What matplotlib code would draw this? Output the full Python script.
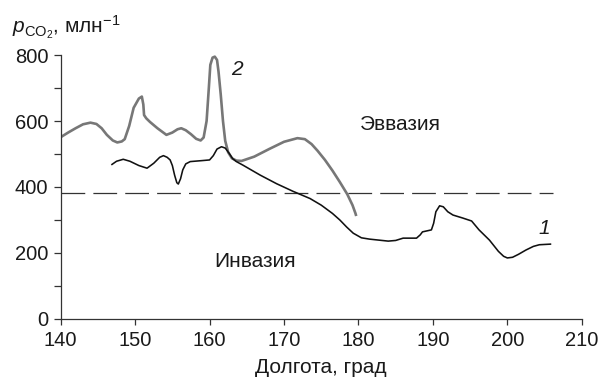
import matplotlib
matplotlib.use("Agg")
import matplotlib.pyplot as plt
from matplotlib.ticker import MultipleLocator

plt.rcParams['font.family'] = ['Liberation Sans', 'DejaVu Sans']
plt.rcParams['mathtext.fontset'] = 'custom'
plt.rcParams['mathtext.rm'] = 'Liberation Sans'
plt.rcParams['mathtext.it'] = 'Liberation Sans:italic'

# Curve 2 (gray)
lon2 = [140, 141, 142, 143, 144, 144.8, 145.5, 146.2, 147, 147.6, 148.2, 148.6, 149.2,
        149.8, 150.5, 150.9, 151.1, 151.2, 151.5, 152.0, 153.0, 154.2, 155.0, 155.7,
        156.2, 156.8, 157.5, 158.2, 158.8, 159.2, 159.6, 159.9, 160.1, 160.4, 160.7,
        161.0, 161.2, 161.5, 161.8, 162.1, 162.5, 163.0, 163.6, 164.3, 166, 168, 170,
        171.8, 172.8, 173.7, 174.5, 175.5, 176.5, 177.5, 178.5, 179.2, 179.6, 179.7]
val2 = [551, 565, 578, 590, 595, 591, 578, 558, 541, 535, 538, 545, 585,
        640, 668, 674, 650, 618, 608, 597, 578, 558, 565, 575,
        578, 572, 560, 546, 541, 550, 600, 700, 770, 792, 795,
        785, 750, 680, 600, 540, 505, 487, 480, 479, 492, 515, 537,
        548, 545, 530, 510, 482, 450, 415, 378, 345, 320, 312]

# Curve 1 (black)
lon1 = [146.8, 147.5, 148.4, 149.3, 150.5, 151.6, 152.5, 153.3, 153.8, 154.3, 154.7,
        155.0, 155.3, 155.6, 155.8, 156.1, 156.4, 156.8, 157.4, 159.0, 160.0, 160.5,
        161.0, 161.6, 162.1, 162.6, 163.1, 163.6, 164.5, 166.8, 169, 171.2, 173.5,
        175, 176.5, 177.5, 178.4, 179.3, 180.4, 181.5, 184, 185, 186, 187.8, 188.3,
        188.6, 189.8, 190.1, 190.4, 190.9, 191.4, 192, 192.7, 194, 195.2, 196.2,
        197.6, 198.8, 199.5, 200, 200.7, 201.5, 202.5, 203.5, 204.3, 205.9]
val1 = [467, 478, 484, 478, 465, 457, 472, 490, 495, 490, 482,
        465, 436, 413, 409, 425, 452, 470, 477, 480, 482, 495,
        515, 522, 518, 503, 486, 477, 466, 436, 410, 387, 365,
        345, 320, 300, 279, 260, 246, 242, 236, 238, 245, 245, 255,
        264, 270, 290, 325, 343, 340, 325, 315, 306, 297, 270,
        239, 205, 190, 185, 187, 196, 209, 220, 225, 227]

atm_level = 382
atm_range = [140, 206.1]

xticks = [140, 150, 160, 170, 180, 190, 200, 210]
yticks = [0, 200, 400, 600, 800]

fig = plt.figure(figsize=(6.01, 3.86), dpi=100)
ax = fig.add_axes([0.101, 0.1736, 0.867, 0.6839])

ax.plot(atm_range, [atm_level, atm_level], color='#333333', lw=0.9,
        dashes=(19, 6.5))
ax.plot(lon2, val2, color='#777777', lw=1.9, solid_joinstyle='round', solid_capstyle='butt')
ax.plot(lon1, val1, color='#111111', lw=1.15, solid_joinstyle='round', solid_capstyle='butt')

ax.set_xlim(140, 210)
ax.set_ylim(0, 800)
ax.set_xticks(xticks)
ax.set_yticks(yticks)
ax.yaxis.set_minor_locator(MultipleLocator(100))
for s in ['top', 'right']:
    ax.spines[s].set_visible(False)
for s in ['left', 'bottom']:
    ax.spines[s].set_color('#333333')
    ax.spines[s].set_linewidth(0.9)
ax.tick_params(axis='both', which='both', direction='out', color='#333333', width=0.9,
               labelsize=14.5, labelcolor='#1a1a1a')
ax.tick_params(axis='x', length=4.5, pad=4)
ax.tick_params(axis='y', which='both', length=5, pad=4)

ax.set_xlabel('Долгота, град', fontsize=15, color='#1a1a1a', labelpad=6)

fig.text(0.02, 0.915, r'$p_{\mathrm{CO_2}}$, млн$^{-1}$', fontsize=15, color='#1a1a1a',
         ha='left', va='baseline')

ax.text(185.7, 588, 'Эввазия', fontsize=15, ha='center', va='center', color='#1a1a1a')
ax.text(166.1, 173, 'Инвазия', fontsize=15, ha='center', va='center', color='#1a1a1a')
ax.text(205.0, 273, '1', fontsize=15, style='italic', ha='center', va='center', color='#1a1a1a')
ax.text(163.7, 755, '2', fontsize=15, style='italic', ha='center', va='center', color='#1a1a1a')

fig.savefig('out.png', dpi=100)
